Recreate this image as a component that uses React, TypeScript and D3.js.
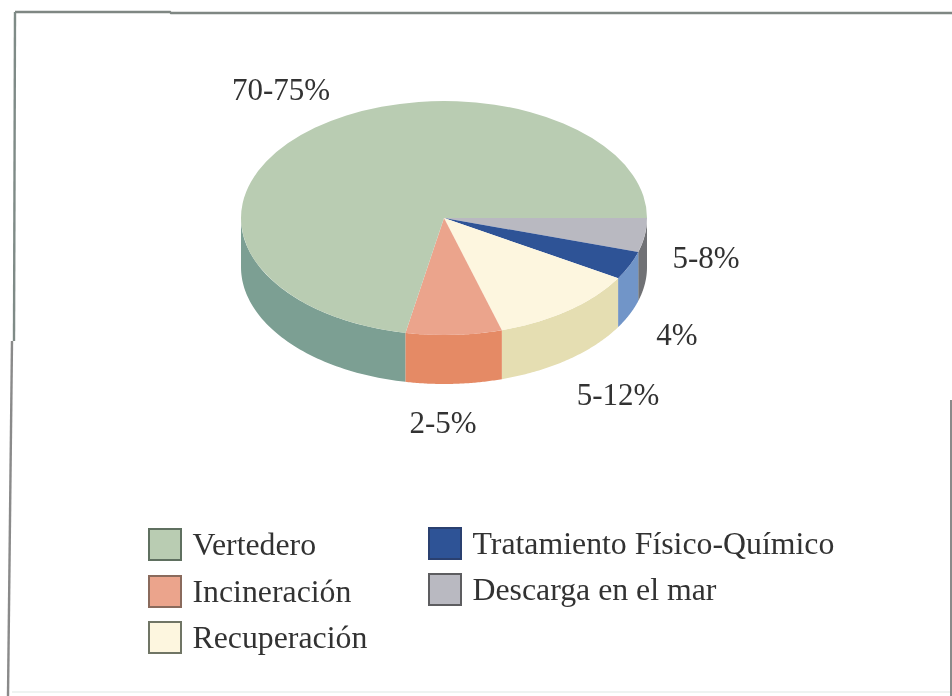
import React from "react";
import * as d3 from "d3";

const categories = ["Descarga en el mar", "Tratamiento Físico-Químico", "Recuperación", "Incineración", "Vertedero"];
const shares = [4.7, 3.9, 11.8, 7.65, 71.95];
const topColors = ["#b9b9c1", "#2f5296", "#fdf6df", "#eba48c", "#b9ccb2"];
const sideColors = ["#707174", "#7195c8", "#e5deb2", "#e58a65", "#7c9f93"];
const sliceLabels = ["5-8%", "4%", "5-12%", "2-5%", "70-75%"];
const labelPositions: [number, number][] = [[706, 268], [677, 345], [618, 405], [443, 433], [281, 100]];
const legendOrder = [
  { name: "Vertedero", color: "#b9ccb2", stroke: "#5f6f60", x: 149, y: 529 },
  { name: "Incineración", color: "#eba48c", stroke: "#8a6a5c", x: 149, y: 576 },
  { name: "Recuperación", color: "#fdf6df", stroke: "#6f7565", x: 149, y: 622 },
  { name: "Tratamiento Físico-Químico", color: "#2f5296", stroke: "#2a3f70", x: 429, y: 528 },
  { name: "Descarga en el mar", color: "#b9b9c1", stroke: "#5d5d60", x: 429, y: 574 },
];

const cx = 444, cy = 218, rx = 203, ry = 117, depth = 49;
const FONT = "'Liberation Serif', serif";
const TEXT = "#333333";

export default function App() {
  const pie = d3.pie<number>().sort(null).startAngle(Math.PI / 2).endAngle(Math.PI / 2 + 2 * Math.PI);
  const arcs = pie(shares);
  const arc = d3.arc<d3.PieArcDatum<number>>().innerRadius(0).outerRadius(1);
  // d3 angles: clockwise from north; the front of the disc runs from PI/2 to 3PI/2
  const line = d3.line<[number, number]>();
  const rim = (a: number, dy: number): [number, number] => [cx + rx * Math.sin(a), cy - ry * Math.cos(a) + dy];
  const wall = (a0: number, a1: number) => {
    const s = Math.max(a0, Math.PI / 2);
    const e = Math.min(a1, (3 * Math.PI) / 2);
    if (e <= s) return null;
    const steps = d3.range(0, 61).map((i) => s + ((e - s) * i) / 60);
    const pts = [...steps.map((a) => rim(a, 0)), ...steps.slice().reverse().map((a) => rim(a, depth))];
    return line(pts) + "Z";
  };
  return (
    <svg width={952} height={696} style={{ position: "fixed", left: 0, top: 0, background: "#fff" }}>
      <defs>
        <filter id="scan" x="-5%" y="-5%" width="110%" height="110%">
          <feGaussianBlur stdDeviation="0.6" />
        </filter>
      </defs>
      <g filter="url(#scan)">
        <path d="M15 12H170L171 13H952" stroke="#7f8783" strokeWidth={2.4} fill="none" />
        <path d="M15 12L14 341" stroke="#7f8b87" strokeWidth={2.4} fill="none" />
        <path d="M12 341L8 696" stroke="#8a8a8a" strokeWidth={2.4} fill="none" />
        <path d="M951 400V696" stroke="#8a8a8a" strokeWidth={2} fill="none" />
        <path d="M12 692H950" stroke="#eef3f1" strokeWidth={2} fill="none" />
        {arcs.map((d, i) => {
          const p = wall(d.startAngle, d.endAngle);
          return p ? <path key={i} d={p} fill={sideColors[i]} /> : null;
        })}
        {arcs.map((d, i) => (
          <path key={i} d={arc(d) as string} fill={topColors[i]} transform={`translate(${cx},${cy}) scale(${rx},${ry})`} />
        ))}
        {sliceLabels.map((t, i) => (
          <text key={t} x={labelPositions[i][0]} y={labelPositions[i][1]} textAnchor="middle" fontFamily={FONT} fontSize={31} fill={TEXT}>{t}</text>
        ))}
        {legendOrder.map((d) => (
          <g key={d.name}>
            <rect x={d.x} y={d.y} width={32} height={31} fill={d.color} stroke={d.stroke} strokeWidth={2} />
            <text x={d.x + 43.5} y={d.y + 26} fontFamily={FONT} fontSize={31.8} fill={TEXT}>{d.name}</text>
          </g>
        ))}
      </g>
    </svg>
  );
}
